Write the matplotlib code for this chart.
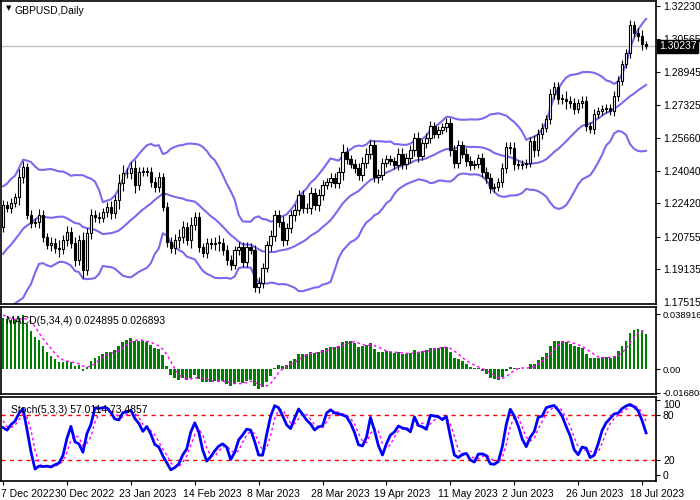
import numpy as np
import pandas as pd
import matplotlib
matplotlib.use("Agg")
import matplotlib.pyplot as plt
import matplotlib.transforms as mtransforms

plt.rcParams["font.family"] = ["Liberation Sans", "DejaVu Sans"]

# closes before the visible window (used only to warm up the indicators)
prior_close = [1.1100, 1.1330, 1.1170, 1.1360, 1.1310, 1.1220, 1.1220, 1.1300, 1.1290, 1.1470,
               1.1610, 1.1580, 1.1610, 1.1470, 1.1510, 1.1390, 1.1160, 1.1380, 1.1510, 1.1540,
               1.1350, 1.1706, 1.1840, 1.1760, 1.1850, 1.1870, 1.1850, 1.1890, 1.1820, 1.1890,
               1.2050, 1.2115, 1.2090, 1.1960, 1.1960, 1.2050, 1.2260, 1.2280, 1.2190, 1.2122]

# visible daily closes, 7 Dec 2022 .. 19 Jul 2023
close = [1.2231, 1.2220, 1.2241, 1.2271, 1.2370, 1.2420, 1.2181, 1.2142, 1.2147, 1.2181,
         1.2074, 1.2033, 1.2043, 1.2018, 1.2013, 1.2057, 1.2097, 1.2043, 1.1958, 1.2057,
         1.1909, 1.2092, 1.2181, 1.2171, 1.2166, 1.2196, 1.2221, 1.2191, 1.2256, 1.2340,
         1.2390, 1.2390, 1.2415, 1.2330, 1.2395, 1.2400, 1.2395, 1.2345, 1.2320, 1.2370,
         1.2221, 1.2048, 1.2018, 1.2057, 1.2072, 1.2122, 1.2057, 1.2131, 1.2171, 1.2023,
         1.1993, 1.2043, 1.2038, 1.2043, 1.2043, 1.2008, 1.1960, 1.1934, 1.2008, 1.2023,
         1.1948, 1.2023, 1.2008, 1.1824, 1.1844, 1.1919, 1.2033, 1.2077, 1.2181, 1.2147,
         1.2057, 1.2117, 1.2181, 1.2206, 1.2281, 1.2216, 1.2216, 1.2290, 1.2231, 1.2281,
         1.2330, 1.2345, 1.2365, 1.2340, 1.2395, 1.2494, 1.2464, 1.2439, 1.2415, 1.2380,
         1.2444, 1.2489, 1.2529, 1.2370, 1.2380, 1.2444, 1.2464, 1.2454, 1.2430, 1.2489,
         1.2439, 1.2469, 1.2504, 1.2568, 1.2479, 1.2543, 1.2568, 1.2628, 1.2588, 1.2608,
         1.2623, 1.2643, 1.2504, 1.2444, 1.2529, 1.2489, 1.2454, 1.2430, 1.2439, 1.2469,
         1.2395, 1.2365, 1.2315, 1.2320, 1.2345, 1.2415, 1.2519, 1.2514, 1.2439, 1.2430,
         1.2439, 1.2444, 1.2553, 1.2504, 1.2588, 1.2618, 1.2663, 1.2787, 1.2821, 1.2762,
         1.2762, 1.2752, 1.2742, 1.2712, 1.2742, 1.2752, 1.2628, 1.2613, 1.2687, 1.2702,
         1.2712, 1.2717, 1.2702, 1.2777, 1.2851, 1.2935, 1.2990, 1.3129, 1.3089, 1.3074,
         1.3035, 1.30237]

# wick extension beyond the body (price units)
wick = [0.0025, 0.002, 0.0025, 0.002, 0.004, 0.003, 0.002, 0.0025, 0.002, 0.003,
        0.0025, 0.002, 0.003, 0.0025, 0.004, 0.0025, 0.003, 0.0025, 0.003, 0.0025,
        0.004, 0.0025, 0.003, 0.0025, 0.0025, 0.002, 0.0025, 0.003, 0.0025, 0.0045,
        0.004, 0.0025, 0.003, 0.004, 0.0025, 0.002, 0.002, 0.0025, 0.0025, 0.0025,
        0.002, 0.0025, 0.0025, 0.003, 0.004, 0.003, 0.0025, 0.004, 0.0025, 0.0025,
        0.002, 0.0025, 0.0025, 0.003, 0.004, 0.0025, 0.0025, 0.0025, 0.002, 0.0025,
        0.0025, 0.0025, 0.002, 0.0025, 0.003, 0.0025, 0.002, 0.003, 0.0025, 0.0025,
        0.003, 0.0025, 0.0025, 0.003, 0.0025, 0.0025, 0.0025, 0.003, 0.0025, 0.003,
        0.0025, 0.002, 0.0025, 0.0025, 0.0025, 0.004, 0.0025, 0.002, 0.0025, 0.0025,
        0.003, 0.0025, 0.0025, 0.0025, 0.003, 0.0025, 0.002, 0.002, 0.002, 0.0025,
        0.0025, 0.0025, 0.0025, 0.0025, 0.003, 0.002, 0.0025, 0.0025, 0.002, 0.002,
        0.002, 0.0025, 0.0025, 0.0025, 0.0025, 0.002, 0.0025, 0.0025, 0.002, 0.002,
        0.0025, 0.0025, 0.0025, 0.002, 0.002, 0.0025, 0.0025, 0.0025, 0.003, 0.002,
        0.002, 0.002, 0.002, 0.003, 0.0025, 0.0025, 0.002, 0.0025, 0.0025, 0.0025,
        0.0025, 0.004, 0.0025, 0.0025, 0.002, 0.0025, 0.0025, 0.002, 0.0025, 0.002,
        0.002, 0.002, 0.002, 0.0025, 0.0025, 0.002, 0.002, 0.0025, 0.002, 0.0025,
        0.003, 0.0015]

date_ticks = [0, 16, 32, 48, 64, 80, 96, 112, 128, 144, 160]
date_labels = ["7 Dec 2022", "30 Dec 2022", "23 Jan 2023", "14 Feb 2023", "8 Mar 2023",
               "28 Mar 2023", "19 Apr 2023", "11 May 2023", "2 Jun 2023", "26 Jun 2023",
               "18 Jul 2023"]
price_ticks = [1.32230, 1.30565, 1.28945, 1.27325, 1.25660, 1.24040, 1.22420, 1.20755, 1.19135]
macd_ticks = [0.038916, 0.0, -0.016808]
macd_tick_labels = ["0.038916", "0.00", "-0.016808"]
stoch_ticks = [100, 80, 20, 0]
last_price = 1.30237

# ---- indicators (MT4 style) ----
allc = pd.Series(prior_close + close)
opens = allc.shift(1).fillna(allc.iloc[0])
allw = pd.Series([0.003] * len(prior_close) + wick)
highs = np.maximum(opens, allc) + allw
lows = np.minimum(opens, allc) - allw

mid = allc.rolling(20).mean()
sd = allc.rolling(20).std(ddof=0)
upper, lower = mid + 2 * sd, mid - 2 * sd

macd = allc.ewm(span=5, adjust=False).mean() - allc.ewm(span=34, adjust=False).mean()
macd_sig = macd.rolling(4).mean()

hh = highs.rolling(5).max()
ll = lows.rolling(5).min()
k = 100 * (allc - ll).rolling(3).sum() / (hh - ll).rolling(3).sum()
d = k.rolling(3).mean()

n0 = len(prior_close)
sl = slice(n0, None)
x = np.arange(len(close))
o = opens[sl].values
c = allc[sl].values
h = highs[sl].values
lo = lows[sl].values

fs = 7.5
fig = plt.figure(figsize=(7, 5), dpi=100)
ax1 = fig.add_axes([0.0015, 1 - 304 / 500, 655 / 700, 303 / 500])
ax2 = fig.add_axes([0.0015, 1 - 394 / 500, 655 / 700, 87 / 500])
ax3 = fig.add_axes([0.0015, 1 - 481 / 500, 655 / 700, 84 / 500])

band_col = "#7B68EE"
ax1.axhline(last_price, color="#C0C0C0", lw=1)
ax1.plot(x, upper[sl].values, color=band_col, lw=1.5)
ax1.plot(x, mid[sl].values, color=band_col, lw=1.5)
ax1.plot(x, lower[sl].values, color=band_col, lw=1.5)
ax1.vlines(x, lo, h, color="black", lw=0.8)
up = c >= o
body_h = np.abs(c - o)
body_h = np.where(body_h < 0.0004, 0.0004, body_h)
ax1.bar(x[up], body_h[up], bottom=np.minimum(o, c)[up], width=0.6,
        color="white", edgecolor="black", linewidth=0.8, zorder=3)
ax1.bar(x[~up], body_h[~up], bottom=np.minimum(o, c)[~up], width=0.6,
        color="black", edgecolor="black", linewidth=0.8, zorder=3)
ax1.set_ylim(1.1740, 1.3248)
ax1.set_yticks(price_ticks)
ax1.set_yticklabels([f"{v:.5f}" for v in price_ticks])
ax1.annotate("1.17515", xy=(1.0, 0.0), xycoords="axes fraction", xytext=(5, 1),
             textcoords="offset points", fontsize=fs, va="center", annotation_clip=False)
ax1.annotate(f"{last_price:.5f}", xy=(1.0, last_price), xycoords=("axes fraction", "data"),
             xytext=(2, 0), textcoords="offset points", fontsize=fs, va="center",
             color="white", bbox=dict(boxstyle="square,pad=0.15", fc="black", ec="black"),
             annotation_clip=False, zorder=10)
ax1.text(0.02, 0.985, "GBPUSD,Daily", transform=ax1.transAxes, fontsize=fs, va="top")
ax1.text(0.007, 0.985, "\u25BC", transform=ax1.transAxes, fontsize=5, va="top",
         family="DejaVu Sans")

ax2.bar(x, macd[sl].values, width=0.7, color="#008000")
ax2.plot(x, macd_sig[sl].values, color="#FF00FF", lw=1, ls=(0, (2, 2)))
ax2.set_ylim(-0.0177, 0.0439)
ax2.set_yticks(macd_ticks)
ax2.set_yticklabels(macd_tick_labels)
ax2.text(0.008, 0.9, "MACD(5,34,4) 0.024895 0.026893", transform=ax2.transAxes,
         fontsize=fs, va="top")

ax3.axhline(80, color="red", lw=1, ls=(0, (3, 3)))
ax3.axhline(20, color="red", lw=1, ls=(0, (3, 3)))
ax3.plot(x, d[sl].values, color="#FF00FF", lw=1, ls=(0, (2, 2)))
ax3.plot(x, k[sl].values, color="#0000FF", lw=2)
ax3.set_ylim(-8, 104)
ax3.set_yticks(stoch_ticks)
ax3.text(0.015, 0.9, "Stoch(5,3,3) 57.0114 73.4857", transform=ax3.transAxes,
         fontsize=fs, va="top")

for ax in (ax1, ax2, ax3):
    ax.set_xlim(-0.5, 163.5)
    ax.yaxis.tick_right()
    ax.tick_params(axis="y", direction="out", length=3, labelsize=fs, pad=2)
    for s in ax.spines.values():
        s.set_linewidth(1.2)
    ax.set_xticks([])
ax2.tick_params(axis="y", labelsize=6.8, pad=1.5)
ax3.get_yticklabels()[0].set_va("top")

ax3.set_xticks(date_ticks)
ax3.set_xticklabels(date_labels)
ax3.tick_params(axis="x", direction="out", length=3, labelsize=fs, pad=3)
for i, lab in enumerate(ax3.get_xticklabels()):
    lab.set_ha("left")
    shift = -0.02 if i == 0 else -0.12
    lab.set_transform(lab.get_transform() + mtransforms.ScaledTranslation(shift, 0, fig.dpi_scale_trans))

fig.savefig("out.png", dpi=100)
